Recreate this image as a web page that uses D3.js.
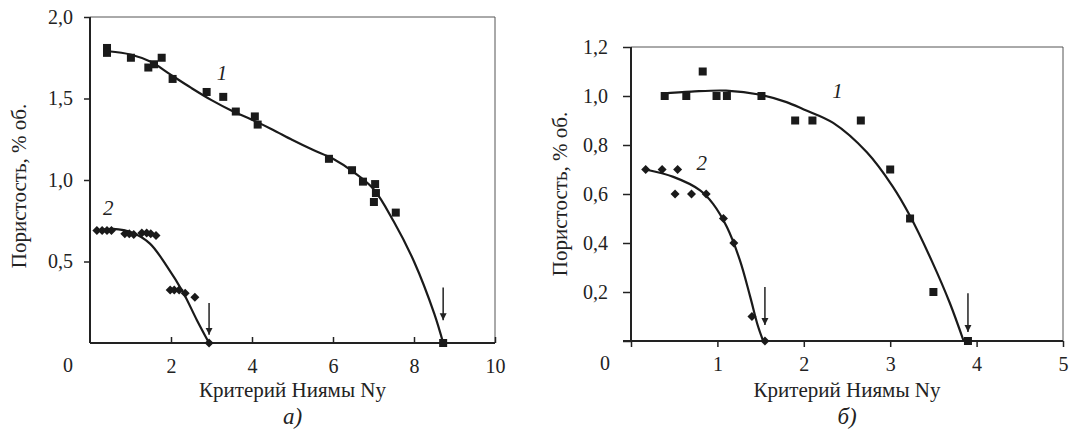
<!DOCTYPE html>
<html>
<head>
<meta charset="utf-8">
<script src="https://cdn.jsdelivr.net/npm/d3@7"></script>
<style>
  body { margin: 0; background: #fff; }
  svg text { font-family: "Times New Roman", "Liberation Serif", Tinos, "DejaVu Serif", serif !important; fill: #222; }
</style>
</head>
<body>
<svg id="chart" width="1069" height="440"></svg>
<script>
// ---- data ----
// panel а): squares = series 1, diamonds = series 2
var aSquares = [[0.42,1.81],[0.42,1.78],[1.01,1.75],[1.44,1.69],[1.58,1.71],[1.77,1.75],[2.04,1.62],
  [2.88,1.54],[3.29,1.51],[3.6,1.42],[4.07,1.39],[4.14,1.34],[5.9,1.13],[6.47,1.06],[6.74,0.99],
  [7.04,0.975],[7.06,0.92],[7.01,0.865],[7.55,0.80],[8.72,0]];
var aDiamonds = [[0.17,0.69],[0.3,0.69],[0.42,0.69],[0.53,0.69],[0.86,0.67],[0.97,0.67],[1.08,0.665],
  [1.28,0.675],[1.4,0.675],[1.5,0.67],[1.63,0.66],[1.98,0.325],[2.08,0.325],[2.2,0.325],
  [2.35,0.305],[2.59,0.28],[2.94,0]];
var aCurve1 = [[0.45,1.79],[1.0,1.77],[1.5,1.725],[2.0,1.645],[2.5,1.565],[3.0,1.49],[3.5,1.425],
  [4.0,1.37],[4.5,1.31],[5.0,1.245],[5.5,1.185],[6.0,1.13],[6.5,1.05],[7.0,0.945],[7.5,0.745],
  [8.0,0.5],[8.5,0.18],[8.72,0]];
var aCurve2 = [[0.17,0.69],[0.57,0.70],[1.06,0.675],[1.48,0.61],[1.9,0.47],[2.3,0.31],[2.64,0.14],[2.94,0]];
var aArrows = [[2.94,0.245,0.05],[8.72,0.34,0.14]];      // x, from y, to y
var aLabels = [["1",3.26,1.66],["2",0.45,0.83]];
var aXTicks = [2,4,6,8,10];
var aYTicks = [0.5,1.0,1.5,2.0];

// panel б)
var bSquares = [[0.39,1.0],[0.64,1.0],[0.83,1.1],[0.99,1.0],[1.11,1.0],[1.51,1.0],[1.9,0.9],
  [2.1,0.9],[2.66,0.9],[3.0,0.7],[3.23,0.5],[3.5,0.2],[3.9,0]];
var bDiamonds = [[0.17,0.70],[0.36,0.70],[0.54,0.70],[0.51,0.60],[0.7,0.60],[0.87,0.60],
  [1.07,0.50],[1.19,0.40],[1.40,0.10],[1.55,0]];
var bCurve1 = [[0.35,1.01],[0.7,1.018],[1.1,1.022],[1.5,1.005],[1.8,0.975],[2.0,0.945],[2.34,0.89],
  [2.73,0.77],[3.03,0.63],[3.23,0.51],[3.49,0.32],[3.69,0.155],[3.85,0]];
var bCurve2 = [[0.17,0.70],[0.49,0.67],[0.8,0.615],[0.95,0.56],[1.11,0.465],[1.26,0.33],[1.38,0.18],
  [1.47,0.06],[1.53,0]];
var bArrows = [[1.55,0.22,0.065],[3.9,0.195,0.037]];
var bLabels = [["1",2.39,1.02],["2",0.82,0.73]];
var bXTicks = [0,1,2,3,4,5];
var bYTicks = [0,0.2,0.4,0.6,0.8,1.0,1.2];

var yTitle = "Пористость, % об.";
var xTitle = "Критерий Ниямы Ny";

var svg = d3.select("#chart");

svg.append("defs").append("marker")
    .attr("id", "arrow")
    .attr("viewBox", "0 0 7 12")
    .attr("refX", 7).attr("refY", 6)
    .attr("markerWidth", 7).attr("markerHeight", 12)
    .attr("markerUnits", "userSpaceOnUse")
    .attr("orient", "auto")
  .append("path")
    .attr("d", "M0,2.5 L7,6 L0,9.5 Z")
    .attr("fill", "#222");

var comma = function(d) { return d.toFixed(1).replace(".", ","); };

function drawPanel(p) {
  var x = d3.scaleLinear().domain(p.xDomain).range(p.xRange);
  var y = d3.scaleLinear().domain(p.yDomain).range(p.yRange);
  var g = svg.append("g");

  // frame (top and right)
  g.append("path")
      .attr("d", "M" + p.xRange[0] + "," + p.yRange[1] + "H" + p.xRange[1] + "V" + p.yRange[0])
      .attr("fill", "none").attr("stroke", "#555").attr("stroke-width", 1);

  // y axis
  var yAxis = g.append("g")
      .attr("transform", "translate(" + p.xRange[0] + ",0)")
      .call(d3.axisLeft(y).tickValues(p.yTicks).tickFormat(comma).tickSize(p.yTickLen).tickPadding(p.yPad));
  // x axis
  var xAxis = g.append("g")
      .attr("transform", "translate(0," + p.yRange[0] + ")")
      .call(d3.axisBottom(x).tickValues(p.xTicks).tickFormat(d3.format("d")).tickSize(p.xTickLen).tickPadding(p.xPad));

  [xAxis, yAxis].forEach(function(a) {
    a.attr("font-family", null);
    a.select(".domain").remove();
    a.selectAll(".tick line").attr("stroke", "#222").attr("stroke-width", 1.5);
    a.selectAll(".tick text").style("font-size", "20px").attr("fill", "#222");
  });
  xAxis.selectAll(".tick").filter(function(d) { return d === 0; }).select("text").remove();
  yAxis.selectAll(".tick").filter(function(d) { return d === 0; }).select("text").remove();

  g.append("line")
      .attr("x1", p.xRange[0]).attr("x2", p.xRange[0])
      .attr("y1", p.yRange[1]).attr("y2", p.yRange[0])
      .attr("stroke", "#222").attr("stroke-width", 2);
  g.append("line")
      .attr("x1", p.xAxisStart).attr("x2", p.xRange[1])
      .attr("y1", p.yRange[0]).attr("y2", p.yRange[0])
      .attr("stroke", "#222").attr("stroke-width", 2);

  // corner zero
  g.append("text")
      .attr("x", p.zeroX).attr("y", p.labelBaseline)
      .attr("text-anchor", "middle")
      .style("font-size", "20px")
      .text("0");

  // fitted curves
  var line = d3.line()
      .x(function(d) { return x(d[0]); })
      .y(function(d) { return y(d[1]); })
      .curve(d3.curveCatmullRom.alpha(0.5));
  [p.curve1, p.curve2].forEach(function(c) {
    g.append("path")
        .attr("d", line(c))
        .attr("fill", "none")
        .attr("stroke", "#1a1a1a")
        .attr("stroke-width", 2.2);
  });

  // markers
  g.selectAll(".sq").data(p.squares).enter().append("rect")
      .attr("class", "sq")
      .attr("x", function(d) { return x(d[0]) - 4; })
      .attr("y", function(d) { return y(d[1]) - 4; })
      .attr("width", 8).attr("height", 8)
      .attr("fill", "#1a1a1a");
  g.selectAll(".dm").data(p.diamonds).enter().append("path")
      .attr("class", "dm")
      .attr("transform", function(d) { return "translate(" + x(d[0]) + "," + y(d[1]) + ")"; })
      .attr("d", "M0,-4.5L4.5,0L0,4.5L-4.5,0Z")
      .attr("fill", "#1a1a1a");

  // arrows
  g.selectAll(".arr").data(p.arrows).enter().append("line")
      .attr("class", "arr")
      .attr("x1", function(d) { return x(d[0]); })
      .attr("x2", function(d) { return x(d[0]); })
      .attr("y1", function(d) { return y(d[1]); })
      .attr("y2", function(d) { return y(d[2]); })
      .attr("stroke", "#222").attr("stroke-width", 1.5)
      .attr("marker-end", "url(#arrow)");

  // curve numbers
  g.selectAll(".num").data(p.labels).enter().append("text")
      .attr("class", "num")
      .attr("x", function(d) { return x(d[1]); })
      .attr("y", function(d) { return y(d[2]); })
      .attr("dy", "0.35em")
      .attr("text-anchor", "middle")
      .style("font-style", "italic")
      .style("font-size", "21px")
      .text(function(d) { return d[0]; });

  // titles
  var cx = (p.xRange[0] + p.xRange[1]) / 2;
  g.append("text")
      .attr("x", cx).attr("y", 397)
      .attr("text-anchor", "middle")
      .style("font-size", "21px")
      .text(xTitle);
  g.append("text")
      .attr("transform", "translate(" + p.yTitleX + "," + p.yTitleY + ") rotate(-90)")
      .attr("text-anchor", "middle")
      .style("font-size", "21px")
      .text(yTitle);
  g.append("text")
      .attr("x", cx).attr("y", 424)
      .attr("text-anchor", "middle")
      .style("font-style", "italic")
      .style("font-size", "23px")
      .text(p.caption);
}

drawPanel({
  xDomain: [0, 10], xRange: [90, 495],
  yDomain: [0, 2], yRange: [343, 17],
  xTicks: aXTicks, yTicks: aYTicks,
  xTickLen: -6, yTickLen: 6, xPad: 16, yPad: 11,
  xAxisStart: 90, zeroX: 68, labelBaseline: 372,
  squares: aSquares, diamonds: aDiamonds,
  curve1: aCurve1, curve2: aCurve2,
  arrows: aArrows, labels: aLabels,
  yTitleX: 26, yTitleY: 186, caption: "а)"
});

drawPanel({
  xDomain: [0, 5], xRange: [631, 1063],
  yDomain: [0, 1.2], yRange: [341, 47],
  xTicks: bXTicks, yTicks: bYTicks,
  xTickLen: 6, yTickLen: 8, xPad: 10, yPad: 15,
  xAxisStart: 623, zeroX: 605, labelBaseline: 370,
  squares: bSquares, diamonds: bDiamonds,
  curve1: bCurve1, curve2: bCurve2,
  arrows: bArrows, labels: bLabels,
  yTitleX: 567, yTitleY: 194, caption: "б)"
});
</script>
</body>
</html>
